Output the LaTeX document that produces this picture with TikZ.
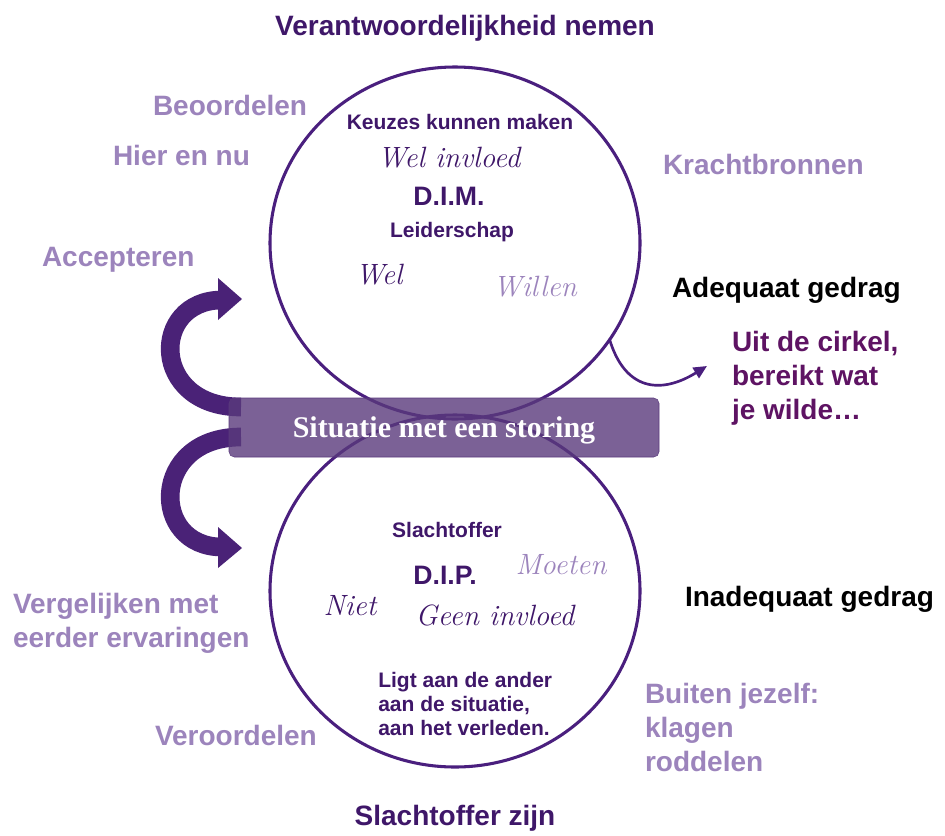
\documentclass[tikz,border=0pt]{standalone}
\usepackage{fontspec}
\setsansfont{Liberation Sans}
\newfontfamily\boxfont{Liberation Serif}
\usetikzlibrary{shapes.geometric,arrows.meta}
\definecolor{dpurple}{HTML}{3F1769}
\definecolor{lpurple}{HTML}{9C84BC}
\definecolor{cpurple}{HTML}{4A1F7E}
\definecolor{uitcol}{HTML}{5E1363}
\definecolor{arrowcol}{HTML}{4A2277}
\definecolor{boxcol}{HTML}{5A3A7C}
\begin{document}
\begin{tikzpicture}[x=0.75pt,y=-0.75pt,
  big/.style={font=\sffamily\bfseries\fontsize{21}{25.5}\selectfont, inner sep=0, outer sep=0},
  small/.style={font=\sffamily\bfseries\fontsize{15.75}{18}\selectfont, inner sep=0, text=dpurple},
  dimtxt/.style={font=\sffamily\bfseries\fontsize{20}{24}\selectfont, inner sep=0, text=dpurple},
  hand/.style={font=\rmfamily\itshape\fontsize{22}{26}\selectfont, inner sep=0},
  ring/.style={ellipse, draw=cpurple, line width=2.3pt, minimum width=277.5pt, minimum height=264pt, inner sep=0, outer sep=0},
  ribbon/.style={draw=arrowcol, line width=14pt},
  headfill/.style={fill=arrowcol},
  uitarrow/.style={draw=cpurple, line width=2pt, -{Triangle[length=10pt,width=9pt]}},
  boxnode/.style={rounded corners=4pt, fill=boxcol, fill opacity=0.8, text opacity=1, draw=boxcol, minimum width=322.5pt, minimum height=44.25pt, inner sep=0, text depth=0pt, text=white, font=\boxfont\bfseries\fontsize{22.5}{27}\selectfont},
]
\useasboundingbox (0,0) rectangle (945,835);

% circles
\node[ring] (topring) at (455,243) {};
\node[ring] (botring) at (455,591) {};

% arrow out of the circle
\coordinate (uittip) at (707,366);
\draw[uitarrow] (topring.-32.4) .. controls (625,390) and (660,395) .. (uittip);

% curved ribbons
\coordinate (r1s) at (241,407);
\coordinate (r1e) at (222,300);
\coordinate (r2s) at (241,437);
\coordinate (r2e) at (222,547);
\draw[ribbon] (r1s) .. controls (150,407) and (150,300) .. (r1e);
\fill[headfill] (242,299) -- (218,278) -- (218,320) -- cycle;
\draw[ribbon] (r2s) .. controls (150,437) and (150,547) .. (r2e);
\fill[headfill] (242,548) -- (218,527) -- (218,568) -- cycle;

% central box
\node[boxnode] (storing) at (444,427.5) {Situatie met een storing};

% outer labels
\node[big, text=dpurple, anchor=base] (title) at (465,35) {Verantwoordelijkheid nemen};
\node[big, text=lpurple, anchor=base west] (beoordelen) at (153,115) {Beoordelen};
\node[big, text=lpurple, anchor=base west] (hier) at (113,165) {Hier en nu};
\node[big, text=lpurple, anchor=base west] (kracht) at (663,174) {Krachtbronnen};
\node[big, text=lpurple, anchor=base west] (accept) at (42,266) {Accepteren};
\node[big, text=black, anchor=base west] (adequaat) at (672,297) {Adequaat gedrag};
\node[big, text=uitcol, anchor=north west, align=left] (uit) at (732,331.5) {Uit de cirkel,\\bereikt wat\\je wilde…};
\node[big, text=black, anchor=base west] (inadequaat) at (685,606) {Inadequaat gedrag};
\node[big, text=lpurple, anchor=north west, align=left] (vergelijken) at (13,593) {Vergelijken met\\eerder ervaringen};
\node[big, text=lpurple, anchor=base west] (veroordelen) at (155,745) {Veroordelen};
\node[big, text=lpurple, anchor=north west, align=left] (buiten) at (645,683) {Buiten jezelf:\\klagen\\roddelen};
\node[big, text=dpurple, anchor=base] (slachtzijn) at (455,825) {Slachtoffer zijn};

% top circle content
\node[small, anchor=base] (keuzes) at (460,129) {Keuzes kunnen maken};
\node[hand, text=dpurple] (welinvloed) at (449,158) {Wel invloed};
\node[dimtxt, anchor=base] (dimlabel) at (449,205) {D.I.M.};
\node[small, anchor=base] (leider) at (452,237) {Leiderschap};
\node[hand, text=dpurple] (wel) at (379,275) {Wel};
\node[hand, text=lpurple] (willen) at (535,287) {Willen};

% bottom circle content
\node[small, anchor=base] (slacht) at (447,537) {Slachtoffer};
\node[dimtxt, anchor=base] (diplabel) at (445,584) {D.I.P.};
\node[hand, text=lpurple] (moeten) at (561,565) {Moeten};
\node[hand, text=dpurple] (niet) at (350,606) {Niet};
\node[hand, text=dpurple] (geen) at (495,615) {Geen invloed};
\node[small, anchor=north west, align=left] (ligt) at (378,672) {Ligt aan de ander\\aan de situatie,\\aan het verleden.};
\end{tikzpicture}
\end{document}
